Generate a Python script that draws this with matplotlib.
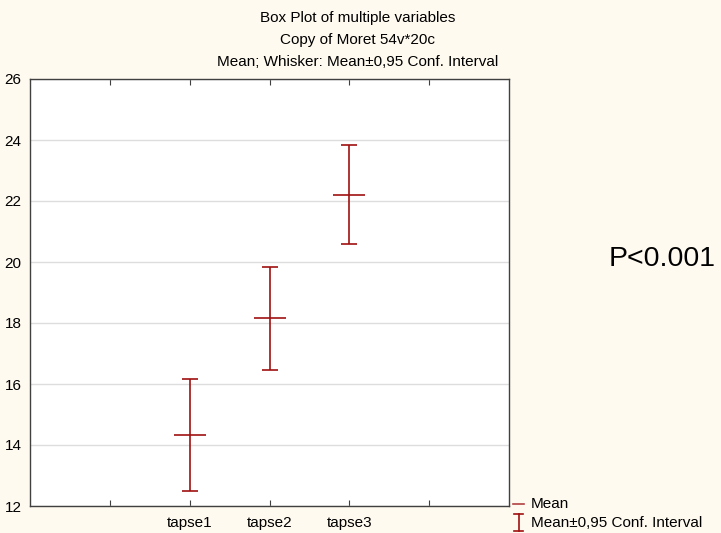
import matplotlib
matplotlib.use("Agg")
import matplotlib.pyplot as plt
from matplotlib.lines import Line2D

categories = ["tapse1", "tapse2", "tapse3"]
means = [14.33, 18.18, 22.21]
ci_low = [12.49, 16.47, 20.60]
ci_high = [16.17, 19.85, 23.84]

positions = [2, 3, 4]

plt.rcParams['font.family'] = ['Liberation Sans', 'DejaVu Sans']
W, H = 721, 533
fig = plt.figure(figsize=(W / 100, H / 100), dpi=100, facecolor='#FFFAF0')
ax = fig.add_axes([30 / W, 1 - 506 / H, (509 - 30) / W, (506 - 79) / H])
ax.set_facecolor('white')

red = '#A01010'
yerr = [[m - l for m, l in zip(means, ci_low)], [h - m for m, h in zip(means, ci_high)]]
ax.errorbar(positions, means, yerr=yerr, fmt='none', ecolor=red, elinewidth=1.2,
            capsize=5.8, capthick=1.2, zorder=3)
ax.plot(positions, means, linestyle='none', marker='_', markersize=23,
        markeredgewidth=1.2, color=red, zorder=3)

ax.set_xlim(0, 6)
ax.set_ylim(12, 26)
ax.set_xticks([1, 2, 3, 4, 5])
ax.set_xticklabels(["", categories[0], categories[1], categories[2], ""], fontsize=11)
ax.set_yticks(range(12, 27, 2))
ax.set_yticklabels([str(v) for v in range(12, 27, 2)], fontsize=11)
ax.tick_params(axis='x', direction='in', length=4, width=0.8, color='#404040',
               top=True, pad=7)
ax.tick_params(axis='y', direction='in', length=0, pad=6)
ax.grid(axis='y', color='#DDDDDD', linewidth=1)
ax.set_axisbelow(True)
for s in ax.spines.values():
    s.set_color('#404040')
    s.set_linewidth(1)

# titles
cx = 358 / W
fig.text(cx, 1 - 18 / H, "Box Plot of multiple variables", ha='center', va='center', fontsize=11)
fig.text(cx, 1 - 40 / H, "Copy of Moret 54v*20c", ha='center', va='center', fontsize=11)
fig.text(cx, 1 - 62 / H, "Mean; Whisker: Mean\u00b10,95 Conf. Interval", ha='center', va='center', fontsize=11)

# annotation
fig.text(609 / W, 1 - 259 / H, "P<0.001", ha='left', va='center', fontsize=20.5)

# legend
def fx(x):
    return x / W

def fy(y):
    return 1 - y / H

fig.add_artist(Line2D([fx(513), fx(524)], [fy(504), fy(504)], color='#B04040', linewidth=1.2))
fig.text(fx(531), fy(504), "Mean", ha='left', va='center', fontsize=11)
fig.add_artist(Line2D([fx(518.5), fx(518.5)], [fy(514), fy(531)], color=red, linewidth=1.2))
fig.add_artist(Line2D([fx(514), fx(523)], [fy(514), fy(514)], color=red, linewidth=1.2))
fig.add_artist(Line2D([fx(514), fx(523)], [fy(531), fy(531)], color=red, linewidth=1.2))
fig.text(fx(531), fy(523), "Mean\u00b10,95 Conf. Interval", ha='left', va='center', fontsize=11)

fig.savefig("out.png", dpi=100, facecolor=fig.get_facecolor())
